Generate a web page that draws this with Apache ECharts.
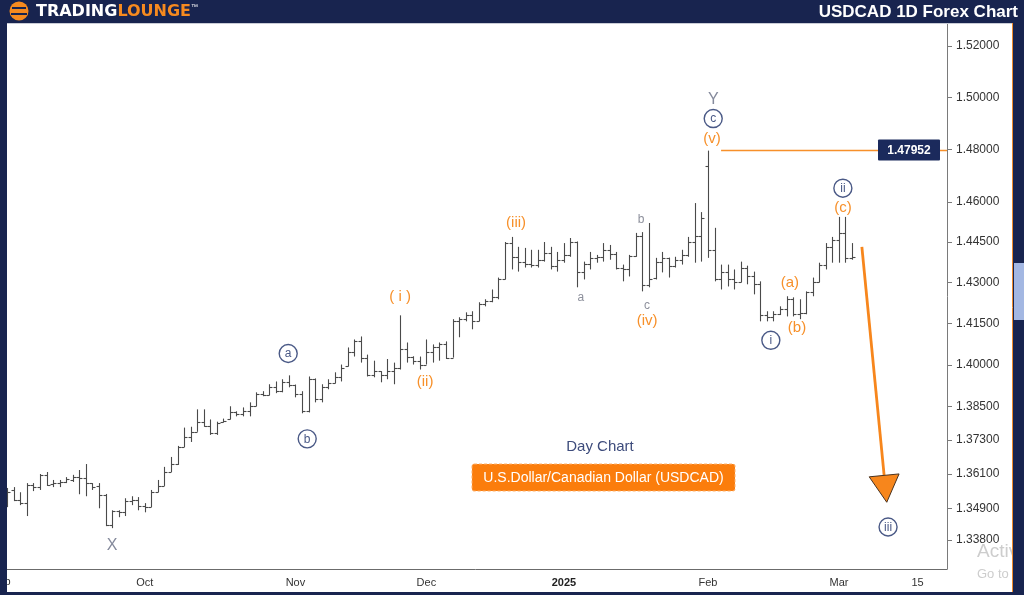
<!DOCTYPE html>
<html>
<head>
<meta charset="utf-8">
<script src="https://cdn.jsdelivr.net/npm/echarts@6/dist/echarts.min.js"></script>
<style>
html,body{margin:0;padding:0;background:#fff;}
#c{width:1024px;height:595px;}
</style>
</head>
<body>
<div id="c"></div>
<script>
// ---------------- DATA ----------------
const firstDate = '2024-09-02';
const holidays = ['2024-11-28', '2024-12-25', '2025-01-01'];
const futureDays = 14;

const opens = [1.3546,1.3554,1.3518,1.3508,1.3571,1.3564,1.3607,1.3575,1.3578,1.3582,
1.3589,1.3599,1.3596,1.3578,1.3568,1.3536,1.3432,1.3480,1.3476,1.3515,
1.3518,1.3497,1.3494,1.3546,1.3568,1.3617,1.3645,1.3705,1.3741,1.3759,
1.3795,1.3781,1.3755,1.3795,1.3803,1.3828,1.3821,1.3832,1.3850,1.3893,
1.3889,1.3918,1.3904,1.3936,1.3925,1.3893,1.3832,1.3947,1.3875,1.3918,
1.3932,1.3954,1.3993,1.4047,1.4084,1.4025,1.3964,1.3975,1.3961,1.3975,
1.3989,1.4055,1.4029,1.4014,1.4000,1.4047,1.4062,1.4073,1.4025,1.4157,
1.4165,1.4179,1.4157,1.4219,1.4230,1.4245,1.4311,1.4446,1.4395,1.4377,
1.4370,1.4366,1.4384,1.4410,1.4359,1.4384,1.4402,1.4450,1.4337,1.4370,
1.4391,1.4395,1.4421,1.4406,1.4355,1.4348,1.4399,1.4472,1.4289,1.4318,
1.4377,1.4391,1.4362,1.4384,1.4402,1.4450,1.4472,1.4737,1.4421,1.4311,
1.4340,1.4311,1.4300,1.4355,1.4322,1.4293,1.4179,1.4172,1.4183,1.4201,
1.4238,1.4183,1.4186,1.4263,1.4300,1.4366,1.4432,1.4457,1.4484,1.4391];

const highs = [1.3561,1.3564,1.3546,1.3578,1.3578,1.3610,1.3617,1.3589,1.3589,1.3599,
1.3607,1.3624,1.3645,1.3578,1.3578,1.3540,1.3483,1.3483,1.3525,1.3532,
1.3529,1.3508,1.3554,1.3589,1.3635,1.3670,1.3709,1.3774,1.3777,1.3839,
1.3839,1.3803,1.3795,1.3806,1.3850,1.3832,1.3846,1.3864,1.3900,1.3904,
1.3929,1.3939,1.3947,1.3961,1.3928,1.3904,1.3957,1.3950,1.3929,1.3947,
1.3972,1.4000,1.4062,1.4091,1.4102,1.4036,1.4014,1.3976,1.4020,1.4007,
1.4179,1.4080,1.4030,1.4029,1.4091,1.4073,1.4080,1.4084,1.4165,1.4172,
1.4190,1.4194,1.4227,1.4238,1.4274,1.4318,1.4450,1.4469,1.4432,1.4428,
1.4421,1.4421,1.4450,1.4432,1.4413,1.4446,1.4465,1.4452,1.4377,1.4413,
1.4402,1.4446,1.4439,1.4413,1.4366,1.4402,1.4484,1.4487,1.4521,1.4391,
1.4413,1.4392,1.4395,1.4421,1.4469,1.4596,1.4562,1.4795,1.4503,1.4366,
1.4366,1.4348,1.4377,1.4362,1.4340,1.4304,1.4194,1.4194,1.4212,1.4249,
1.4245,1.4238,1.4267,1.4318,1.4373,1.4446,1.4469,1.4544,1.4544,1.4446];

const lows = [1.3494,1.3515,1.3501,1.3463,1.3550,1.3554,1.3568,1.3564,1.3564,1.3578,
1.3582,1.3539,1.3532,1.3554,1.3490,1.3428,1.3421,1.3459,1.3463,1.3501,
1.3483,1.3476,1.3494,1.3546,1.3568,1.3617,1.3642,1.3705,1.3723,1.3759,
1.3777,1.3748,1.3748,1.3792,1.3803,1.3814,1.3814,1.3814,1.3850,1.3886,
1.3889,1.3897,1.3900,1.3918,1.3882,1.3825,1.3828,1.3864,1.3864,1.3911,
1.3932,1.3939,1.3993,1.4029,1.4007,1.3957,1.3954,1.3936,1.3947,1.3929,
1.3982,1.4007,1.4000,1.3982,1.4000,1.4007,1.4014,1.4020,1.4025,1.4099,
1.4157,1.4128,1.4157,1.4212,1.4227,1.4238,1.4311,1.4348,1.4340,1.4355,
1.4355,1.4355,1.4377,1.4348,1.4340,1.4373,1.4395,1.4282,1.4311,1.4348,
1.4373,1.4377,1.4384,1.4348,1.4304,1.4322,1.4395,1.4267,1.4282,1.4311,
1.4337,1.4318,1.4355,1.4366,1.4395,1.4373,1.4377,1.4391,1.4304,1.4274,
1.4285,1.4274,1.4300,1.4293,1.4256,1.4157,1.4157,1.4157,1.4180,1.4175,
1.4175,1.4165,1.4183,1.4249,1.4300,1.4348,1.4373,1.4373,1.4373,1.4384];

const closes = [1.3546,1.3518,1.3508,1.3571,1.3564,1.3607,1.3571,1.3578,1.3582,1.3592,
1.3599,1.3596,1.3578,1.3564,1.3536,1.3432,1.3480,1.3476,1.3515,1.3518,
1.3497,1.3494,1.3546,1.3568,1.3617,1.3645,1.3705,1.3741,1.3759,1.3795,
1.3781,1.3755,1.3792,1.3799,1.3828,1.3821,1.3832,1.3850,1.3893,1.3889,
1.3918,1.3904,1.3936,1.3925,1.3893,1.3832,1.3947,1.3875,1.3918,1.3932,
1.3954,1.3989,1.4047,1.4084,1.4025,1.3964,1.3975,1.3961,1.3975,1.3989,
1.4055,1.4029,1.4014,1.4000,1.4047,1.4062,1.4073,1.4025,1.4157,1.4165,
1.4179,1.4157,1.4219,1.4230,1.4245,1.4311,1.4446,1.4395,1.4377,1.4370,
1.4366,1.4384,1.4410,1.4359,1.4384,1.4402,1.4450,1.4337,1.4370,1.4391,
1.4395,1.4421,1.4406,1.4355,1.4348,1.4399,1.4472,1.4289,1.4311,1.4377,
1.4391,1.4362,1.4384,1.4402,1.4450,1.4472,1.4540,1.4421,1.4311,1.4340,
1.4311,1.4300,1.4355,1.4322,1.4293,1.4179,1.4172,1.4183,1.4201,1.4238,
1.4183,1.4186,1.4263,1.4300,1.4366,1.4432,1.4457,1.4484,1.4391,1.4395];

const yTicks = [1.52, 1.50, 1.48, 1.46, 1.445, 1.43, 1.415, 1.40, 1.385, 1.373, 1.361, 1.349, 1.338];
const yMin = 1.32802, yMax = 1.52866;

const xLabelDates = ['2024-10-01','2024-11-01','2024-12-02','2025-01-02','2025-02-03','2025-03-03','2025-03-15'];
const xLabelTexts = ['Oct','Nov','Dec','2025','Feb','Mar','15'];
const firstMonthLabel = 'Sep';

const lastPriceStartIndex = 109;
const lastPriceValue = 1.47952;

// wave labels: text, position (bar index, price), kind
const waveTexts  = ['X','a','b','( i )','(ii)','(iii)','a','b','c','(iv)','Y','c','(v)','i','(a)','(b)','ii','(c)','iii'];
const waveIndex  = [16.0,42.9,45.8,60.0,63.8,77.7,87.6,96.8,97.7,97.7,107.8,107.8,107.6,116.6,119.5,120.6,127.6,127.6,134.5];
const wavePrices = [1.3359,1.4040,1.3734,1.4245,1.3939,1.4521,1.4245,1.4533,1.4216,1.4157,1.4992,1.4918,1.4839,1.4088,1.4300,1.4132,1.4652,1.4578,1.3425];
const waveKinds  = ['grayBig','circle','circle','orange','orange','orange','gray','gray','gray','orange','grayBig','circle','orange','circle','orange','orange','circle','orange','circle'];

const arrowFrom = [130.5, 1.4432];
const arrowTo   = [134.3, 1.3511];

// ---------------- BUILD ----------------
function fmt(d){
  const m = d.getUTCMonth()+1, day = d.getUTCDate();
  return d.getUTCFullYear()+'-'+(m<10?'0':'')+m+'-'+(day<10?'0':'')+day;
}
const dates = [];
let d = new Date(firstDate+'T00:00:00Z');
while (dates.length < opens.length) {
  const s = fmt(d), dow = d.getUTCDay();
  if (dow !== 0 && dow !== 6 && holidays.indexOf(s) < 0) dates.push(s);
  d.setUTCDate(d.getUTCDate()+1);
}
for (let k = 0; k < futureDays; k++) { dates.push(fmt(d)); d.setUTCDate(d.getUTCDate()+1); }

const ohlc = opens.map((o,i)=>[i, o, highs[i], lows[i], closes[i]]);
const FONT = 'Liberation Sans, Arial, sans-serif';
const ORANGE = '#f7902a';
const NAVY = '#18244f';
const CIRC = '#4a5986';

const chart = echarts.init(document.getElementById('c'), null, {renderer:'canvas', width:1024, height:595});

const option = {
  animation:false,
  backgroundColor:'#ffffff',
  grid:{left:4, right:77, top:24, bottom:26},
  xAxis:[
    {type:'category', data:dates, boundaryGap:true,
     axisLine:{show:true, onZero:false, lineStyle:{color:'#6b6b6b', width:1}},
     axisTick:{show:false}, splitLine:{show:false},
     axisLabel:{
       interval:(i,v)=>xLabelDates.indexOf(v) >= 0,
       formatter:(v)=>{ const t = xLabelTexts[xLabelDates.indexOf(v)]; return t==='2025' ? '{b|2025}' : t; },
       color:'#333', fontSize:11, fontFamily:FONT, margin:8,
       rich:{b:{fontWeight:'bold', fontSize:11, color:'#222', fontFamily:FONT}}
     }},
    {type:'value', min:-0.5, max:dates.length-0.5, show:false}
  ],
  yAxis:[{type:'log', min:yMin, max:yMax, position:'right',
    axisLine:{show:true, onZero:false, lineStyle:{color:'#7a7a7a', width:1}},
    axisTick:{show:false}, axisLabel:{show:false}, splitLine:{show:false}}],
  series:[
    { // OHLC bars
      type:'custom', xAxisIndex:0, yAxisIndex:0, silent:true, clip:true,
      data:ohlc, encode:{x:0, y:[1,2,3,4]},
      renderItem:(params, api)=>{
        const i = api.value(0);
        const o = api.coord([i, api.value(1)]), h = api.coord([i, api.value(2)]);
        const l = api.coord([i, api.value(3)]), c = api.coord([i, api.value(4)]);
        const x = Math.round(h[0]) + 0.5;
        const st = {stroke:'#4a4a4a', lineWidth:1.1};
        return {type:'group', children:[
          {type:'line', shape:{x1:x, y1:h[1], x2:x, y2:l[1]}, style:st},
          {type:'line', shape:{x1:x-3, y1:Math.round(o[1])+0.5, x2:x, y2:Math.round(o[1])+0.5}, style:st},
          {type:'line', shape:{x1:x, y1:Math.round(c[1])+0.5, x2:x+3, y2:Math.round(c[1])+0.5}, style:st}
        ]};
      }
    },
    { // y-axis ticks & labels
      type:'custom', xAxisIndex:0, yAxisIndex:0, silent:true, clip:false, z:5,
      data:yTicks.map(v=>[0, v]),
      renderItem:(params, api)=>{
        const p = api.coord([0, api.value(1)]);
        const x0 = params.coordSys.x + params.coordSys.width;
        const y = Math.round(p[1]) + 0.5;
        return {type:'group', children:[
          {type:'line', shape:{x1:x0, y1:y, x2:x0+5, y2:y}, style:{stroke:'#7a7a7a', lineWidth:1}},
          {type:'text', x:x0+9, y:p[1], style:{text:api.value(1).toFixed(5), fill:'#333', font:'12px '+FONT, textAlign:'left', textVerticalAlign:'middle'}}
        ]};
      }
    },
    { // last high price line and box
      type:'custom', xAxisIndex:0, yAxisIndex:0, silent:true, clip:false, z:6,
      data:[[lastPriceStartIndex, lastPriceValue]],
      renderItem:(params, api)=>{
        const p = api.coord([api.value(0), api.value(1)]);
        const xr = params.coordSys.x + params.coordSys.width;
        const y = Math.round(p[1]) - 0.5;
        return {type:'group', children:[
          {type:'line', shape:{x1:p[0], y1:y, x2:xr, y2:y}, style:{stroke:ORANGE, lineWidth:1.3}},
          {type:'rect', shape:{x:xr-69, y:y-11, width:62, height:21, r:1}, style:{fill:'#1b2a5c'}},
          {type:'text', x:xr-38, y:y, style:{text:api.value(1).toFixed(5), fill:'#fff', font:'bold 12px '+FONT, textAlign:'center', textVerticalAlign:'middle'}}
        ]};
      }
    },
    { // projection arrow
      type:'custom', xAxisIndex:1, yAxisIndex:0, silent:true, clip:false, z:7,
      data:[[arrowFrom[0], arrowFrom[1], arrowTo[0], arrowTo[1]]],
      renderItem:(params, api)=>{
        const a = api.coord([api.value(0), api.value(1)]);
        const b = api.coord([api.value(2), api.value(3)]);
        const dx = b[0]-a[0], dy = b[1]-a[1], len = Math.sqrt(dx*dx+dy*dy);
        const ux = dx/len, uy = dy/len, nx = -uy, ny = ux;
        const hl = 27, hw = 15;
        const bx = b[0]-ux*hl, by = b[1]-uy*hl;
        return {type:'group', children:[
          {type:'line', shape:{x1:a[0], y1:a[1], x2:bx, y2:by}, style:{stroke:'#f7861c', lineWidth:2.8}},
          {type:'polygon', shape:{points:[[b[0],b[1]],[bx+nx*hw, by+ny*hw],[bx-nx*hw, by-ny*hw]]},
           style:{fill:'#f7861c', stroke:'#4a3320', lineWidth:1}}
        ]};
      }
    },
    { // wave labels
      type:'custom', xAxisIndex:1, yAxisIndex:0, silent:true, clip:false, z:8,
      data:waveTexts.map((t,i)=>[waveIndex[i], wavePrices[i], i]),
      renderItem:(params, api)=>{
        const p = api.coord([api.value(0), api.value(1)]);
        const k = api.value(2);
        const kind = waveKinds[k], txt = waveTexts[k];
        if (kind === 'circle') {
          return {type:'group', children:[
            {type:'circle', shape:{cx:p[0], cy:p[1], r:9}, style:{fill:'#fff', stroke:CIRC, lineWidth:1.4}},
            {type:'text', x:p[0], y:p[1]+0.5, style:{text:txt, fill:CIRC, font:'12px '+FONT, textAlign:'center', textVerticalAlign:'middle'}}
          ]};
        }
        let font, fill;
        if (kind === 'orange') { font = '15px '+FONT; fill = ORANGE; }
        else if (kind === 'grayBig') { font = '16px '+FONT; fill = '#858a9c'; }
        else { font = '12px '+FONT; fill = '#8d909c'; }
        return {type:'text', x:p[0], y:p[1], style:{text:txt, fill:fill, font:font, textAlign:'center', textVerticalAlign:'middle'}};
      }
    }
  ],
  graphic:[
    // first month label (partly under the left border)
    {type:'text', x:10.5, y:582, z:40, style:{text:firstMonthLabel, fill:'#333', font:'11px '+FONT, textAlign:'right', textVerticalAlign:'middle'}},
    // captions
    {type:'text', x:600, y:447, z:10, style:{text:'Day Chart', fill:'#3e4c7c', font:'15px '+FONT, textAlign:'center', textVerticalAlign:'middle'}},
    {type:'rect', x:472, y:464, z:10, shape:{width:263, height:27, r:2}, style:{fill:'#fb7d0c', stroke:'#fdb06a', lineWidth:1, lineDash:[3,2]}},
    {type:'text', x:603.5, y:478, z:11, style:{text:'U.S.Dollar/Canadian Dollar (USDCAD)', fill:'#ffffff', font:'14px '+FONT, textAlign:'center', textVerticalAlign:'middle'}},
    // watermark
    {type:'text', x:977, y:552, z:20, style:{text:'Activ', fill:'#cdcdcd', font:'19px '+FONT, textVerticalAlign:'middle'}},
    {type:'text', x:977, y:574, z:20, style:{text:'Go to', fill:'#cdcdcd', font:'13px '+FONT, textVerticalAlign:'middle'}},
    // frame
    {type:'rect', x:0, y:0, z:50, shape:{width:1024, height:23}, style:{fill:NAVY}},
    {type:'line', z:50, shape:{x1:0, y1:23.5, x2:1024, y2:23.5}, style:{stroke:'#c9ccd6', lineWidth:1}},
    {type:'rect', x:0, y:0, z:50, shape:{width:7, height:595}, style:{fill:NAVY}},
    {type:'rect', x:0, y:592, z:50, shape:{width:1024, height:3}, style:{fill:NAVY}},
    {type:'rect', x:1013, y:0, z:50, shape:{width:11, height:595}, style:{fill:NAVY}},
    {type:'line', z:51, shape:{x1:1012.5, y1:23, x2:1012.5, y2:592}, style:{stroke:'#f08a2a', lineWidth:1}},
    {type:'rect', x:1014, y:263, z:51, shape:{width:10, height:57}, style:{fill:'#a3b7e2'}},
    // header logo
    {type:'circle', z:52, shape:{cx:19, cy:11, r:9.5}, style:{fill:'#f68a1f'}},
    {type:'rect', x:12, y:7, z:53, shape:{width:14, height:2}, style:{fill:NAVY}},
    {type:'rect', x:11, y:13, z:53, shape:{width:16, height:2}, style:{fill:NAVY}},
    {type:'text', x:36, y:11.5, z:53, style:{text:'{w|TRADING}{o|LOUNGE}{t|™}', textVerticalAlign:'middle',
      rich:{w:{fill:'#ffffff', font:'bold 16px DejaVu Sans, sans-serif'}, o:{fill:'#f68a1f', font:'bold 16px DejaVu Sans, sans-serif'}, t:{fill:'#ffffff', font:'7px '+FONT, verticalAlign:'top'}}}},
    {type:'text', x:1018, y:12, z:53, style:{text:'USDCAD 1D Forex Chart', fill:'#ffffff', font:'bold 17px '+FONT, textAlign:'right', textVerticalAlign:'middle'}}
  ]
};
chart.setOption(option);
</script>
</body>
</html>
